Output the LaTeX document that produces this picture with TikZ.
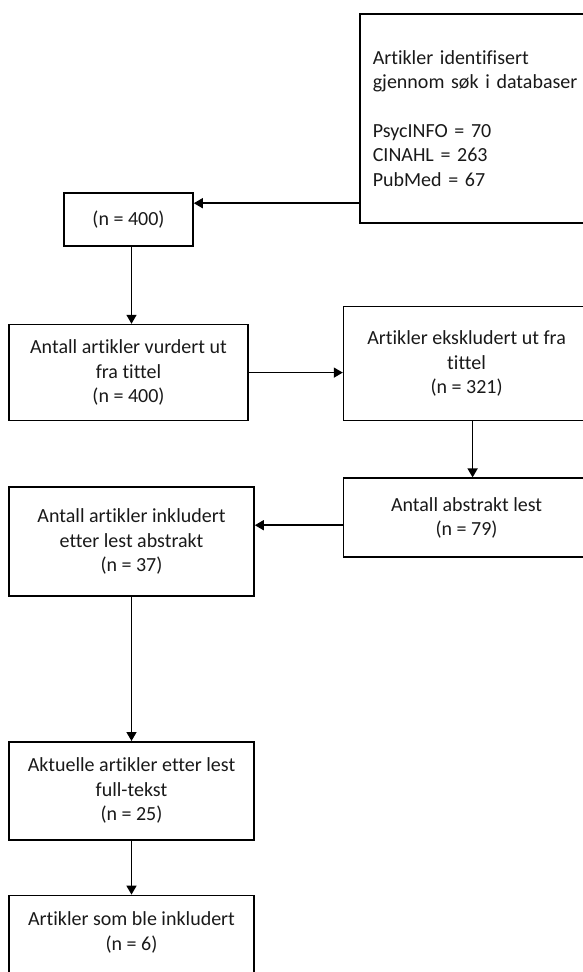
\documentclass[tikz,border=0pt]{standalone}
\usepackage{fontspec}
\setmainfont{Carlito}[Ligatures=NoCommon]
\usetikzlibrary{positioning,arrows.meta}

\begin{document}
\begin{tikzpicture}[
box/.style={
  draw,
  line width=1.6pt,
  inner sep=0pt,
  align=center,
  text=black!90,
  font=\fontsize{20pt}{24.4pt}\selectfont
},
srcbox/.style={
  box,
  anchor=north west,
  align=left,
  text width=205pt,
  inner xsep=13pt,
  minimum height=209pt
},
arr/.style={
  line width=1.5pt,
  -{Triangle[length=9pt,width=10pt]}
},
node distance=60pt
]
\useasboundingbox (0,0) rectangle (582pt,-972pt);

\node[srcbox] at (359pt,-13pt)
  (src) {Artikler identifisert\\gjennom søk i databaser\\[24.4pt]PsycINFO = 70\\CINAHL = 263\\PubMed = 67};
\node[box,minimum width=129pt,minimum height=53pt] at (128.5pt,-219.5pt)
  (tot) {(n = 400)};
\node[box,below=77pt of tot,minimum width=239pt,minimum height=96pt]
  (title) {Antall artikler vurdert ut\\fra tittel\\(n = 400)};
\node[box,right=94pt of title.south east,anchor=south west,minimum width=246pt,minimum height=114pt]
  (excl) {Artikler ekskludert ut fra\\tittel\\(n = 321)};
\node[box,below=56pt of excl.south west,anchor=north west,minimum width=246pt,minimum height=79pt]
  (abs) {Antall abstrakt lest\\(n = 79)};
\node[box,below=65pt of title.south west,anchor=north west,minimum width=245pt,minimum height=109pt]
  (incl) {Antall artikler inkludert\\etter lest abstrakt\\(n = 37)};
\node[box,below=144pt of incl,minimum width=245pt,minimum height=98pt]
  (full) {Aktuelle artikler etter lest\\full-tekst\\(n = 25)};
\node[box,below=54pt of full,minimum width=245pt,minimum height=96pt]
  (final) {Artikler som ble inkludert\\(n = 6)\\\mbox{}};

\coordinate (in) at ([yshift=-11pt]tot.north east);
\draw[arr] (src.west |- in) -- (in);
\draw[arr] (tot.south -| full) -- (title.north -| full);
\draw[arr] (title.east) -- (title.east -| excl.west);
\draw[arr] ([xshift=6pt]excl.south) -- ([xshift=6pt]abs.north);
\draw[arr] ([yshift=-7.5pt]abs.west) -- ([yshift=-7.5pt]abs.west -| incl.east);
\draw[arr] (incl.south) -- (full.north);
\draw[arr] (full.south) -- (final.north);
\end{tikzpicture}
\end{document}
